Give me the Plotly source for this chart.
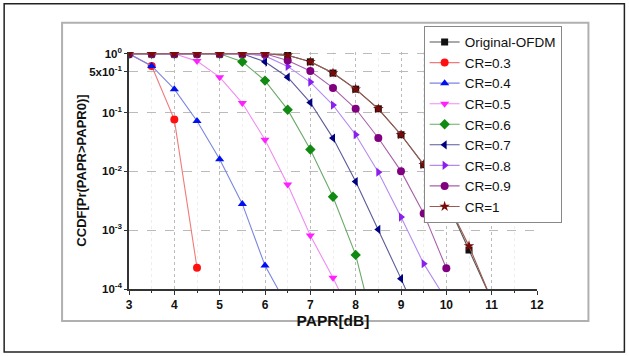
import plotly.graph_objects as go

# ---- data ----
series_names = ["Original-OFDM", "CR=0.3", "CR=0.4", "CR=0.5", "CR=0.6",
                "CR=0.7", "CR=0.8", "CR=0.9", "CR=1"]

orig_x = [3, 3.5, 4, 4.5, 5, 5.5, 6, 6.5, 7, 7.5, 8, 8.5, 9, 9.5, 10, 10.5, 11]
orig_y = [1, 1, 1, 1, 1, 1, 1.0, 0.94, 0.73, 0.47, 0.25, 0.116, 0.042, 0.013, 3.2e-3, 4.6e-4, 6.5e-5]

cr03_x = [3, 3.5, 4, 4.5]
cr03_y = [1, 0.62, 0.076, 2.3e-4]

cr04_x = [3, 3.5, 4, 4.5, 5, 5.5, 6, 6.5]
cr04_y = [1, 0.62, 0.25, 0.072, 0.0161, 2.8e-3, 2.5e-4, 5e-5]

cr05_x = [3, 3.5, 4, 4.5, 5, 5.5, 6, 6.5, 7, 7.5, 8]
cr05_y = [1, 1, 1, 0.75, 0.40, 0.145, 0.0345, 6.0e-3, 8.1e-4, 1.55e-4, 2.5e-5]

cr06_x = [3, 3.5, 4, 4.5, 5, 5.5, 6, 6.5, 7, 7.5, 8, 8.5]
cr06_y = [1, 1, 1, 1, 1, 0.73, 0.35, 0.112, 0.0236, 3.7e-3, 3.8e-4, 1.1e-5]

cr07_x = [3, 3.5, 4, 4.5, 5, 5.5, 6, 6.5, 7, 7.5, 8, 8.5, 9, 9.5]
cr07_y = [1, 1, 1, 1, 1, 1, 0.73, 0.40, 0.148, 0.0368, 6.7e-3, 1.03e-3, 1.5e-4, 2e-5]

cr08_x = [3, 3.5, 4, 4.5, 5, 5.5, 6, 6.5, 7, 7.5, 8, 8.5, 9, 9.5, 10]
cr08_y = [1, 1, 1, 1, 1, 1, 0.92, 0.61, 0.33, 0.134, 0.042, 9.7e-3, 1.67e-3, 2.7e-4, 6.5e-5]

cr09_x = [3, 3.5, 4, 4.5, 5, 5.5, 6, 6.5, 7, 7.5, 8, 8.5, 9, 9.5, 10]
cr09_y = [1, 1, 1, 1, 1, 1, 1, 0.77, 0.51, 0.263, 0.116, 0.037, 0.0101, 1.93e-3, 2.25e-4]

cr1_x = [3, 3.5, 4, 4.5, 5, 5.5, 6, 6.5, 7, 7.5, 8, 8.5, 9, 9.5, 10, 10.5, 11]
cr1_y = [1, 1, 1, 1, 1, 1, 1.0, 0.94, 0.73, 0.47, 0.25, 0.116, 0.042, 0.013, 3.2e-3, 5.4e-4, 6.5e-5]

x_ticks = [3, 4, 5, 6, 7, 8, 9, 10, 11, 12]
y_tickvals = [1, 0.5, 0.1, 0.01, 0.001, 0.0001]
y_ticktext = ["10<sup>0</sup>", "5x10<sup>-1</sup>", "10<sup>-1</sup>",
              "10<sup>-2</sup>", "10<sup>-3</sup>", "10<sup>-4</sup>"]

# ---- styles ----
xs = [orig_x, cr03_x, cr04_x, cr05_x, cr06_x, cr07_x, cr08_x, cr09_x, cr1_x]
ys = [orig_y, cr03_y, cr04_y, cr05_y, cr06_y, cr07_y, cr08_y, cr09_y, cr1_y]
marker_colors = ["#111111", "#ff1010", "#0010ee", "#ff20ff", "#108a10",
                 "#000080", "#8a20f0", "#800080", "#7a0a0a"]
line_colors = ["#555555", "#f07a7a", "#7a86e0", "#f28af2", "#6aaa6a",
               "#5a5a9a", "#b48af2", "#a860a8", "#9a5a50"]
symbols = ["square", "circle", "triangle-up", "triangle-down", "diamond",
           "triangle-left", "triangle-right", "circle", "star"]
sizes = [7, 8, 8, 8, 8, 8, 8, 8, 8]

FONT = "Liberation Sans, Arial, sans-serif"

fig = go.Figure()
for name, x, y, mc, lc, sym, sz in zip(series_names, xs, ys, marker_colors,
                                       line_colors, symbols, sizes):
    fig.add_trace(go.Scatter(
        x=x, y=y, name=name, mode="lines+markers",
        line=dict(color=lc, width=1.1),
        marker=dict(color=mc, symbol=sym, size=sz, line=dict(width=0)),
        cliponaxis=True,
    ))

W, H = 629, 356
L, R, T, B = 129, 537.5, 52.2, 289
plot_w, plot_h = R - L, B - T


def px(xp):
    return (xp - L) / plot_w


def py(yp):
    return (B - yp) / plot_h


shapes = [
    dict(type="rect", xref="paper", yref="paper", layer="below",
         x0=px(4), x1=px(625), y0=py(352), y1=py(4),
         line=dict(color="#222222", width=1.5)),
    dict(type="rect", xref="paper", yref="paper", layer="below",
         x0=px(62), x1=px(589), y0=py(321), y1=py(23),
         line=dict(color="#b0b0b0", width=2)),
]

fig.update_layout(
    width=W, height=H,
    margin=dict(l=L, r=W - R, t=T, b=H - B, pad=0),
    paper_bgcolor="white", plot_bgcolor="white",
    font=dict(family=FONT, color="#111111"),
    shapes=shapes,
    showlegend=True,
    legend=dict(
        x=px(424), y=py(26), xanchor="left", yanchor="top",
        bgcolor="white", bordercolor="#888888", borderwidth=1,
        font=dict(family=FONT, size=13.5, color="#111111"),
        itemwidth=30, tracegroupgap=0, maxheight=400,
    ),
    xaxis=dict(
        range=[3, 12], tickvals=x_ticks, ticks="outside", ticklen=4,
        tickwidth=1.2, tickcolor="#333333",
        showline=True, linecolor="#333333", linewidth=1.5,
        showgrid=True, gridcolor="#bbbbbb", griddash="dot", gridwidth=1,
        zeroline=False,
        minor=dict(dtick=0.5, tick0=3, ticks="outside", ticklen=2,
                   tickcolor="#333333", showgrid=True, gridcolor="#eeeeee",
                   gridwidth=1),
        tickfont=dict(family=FONT, size=12, weight="bold", color="#111111"),
        title=dict(text="PAPR[dB]", standoff=0,
                   font=dict(family=FONT, size=15.5, weight="bold", color="#111111")),
    ),
    yaxis=dict(
        type="log", range=[-4, 0.03],
        tickvals=y_tickvals, ticktext=y_ticktext,
        ticks="outside", ticklen=3, tickwidth=1.2, tickcolor="#333333",
        showline=True, linecolor="#333333", linewidth=1.5,
        showgrid=True, gridcolor="#bbbbbb", griddash="dash", gridwidth=1,
        zeroline=False,
        tickfont=dict(family=FONT, size=11.5, weight="bold", color="#111111"),
        title=dict(text="CCDF[Pr(PAPR>PAPR0)]", standoff=0,
                   font=dict(family=FONT, size=13, weight="bold", color="#111111")),
    ),
)

fig.write_html("out.html")
